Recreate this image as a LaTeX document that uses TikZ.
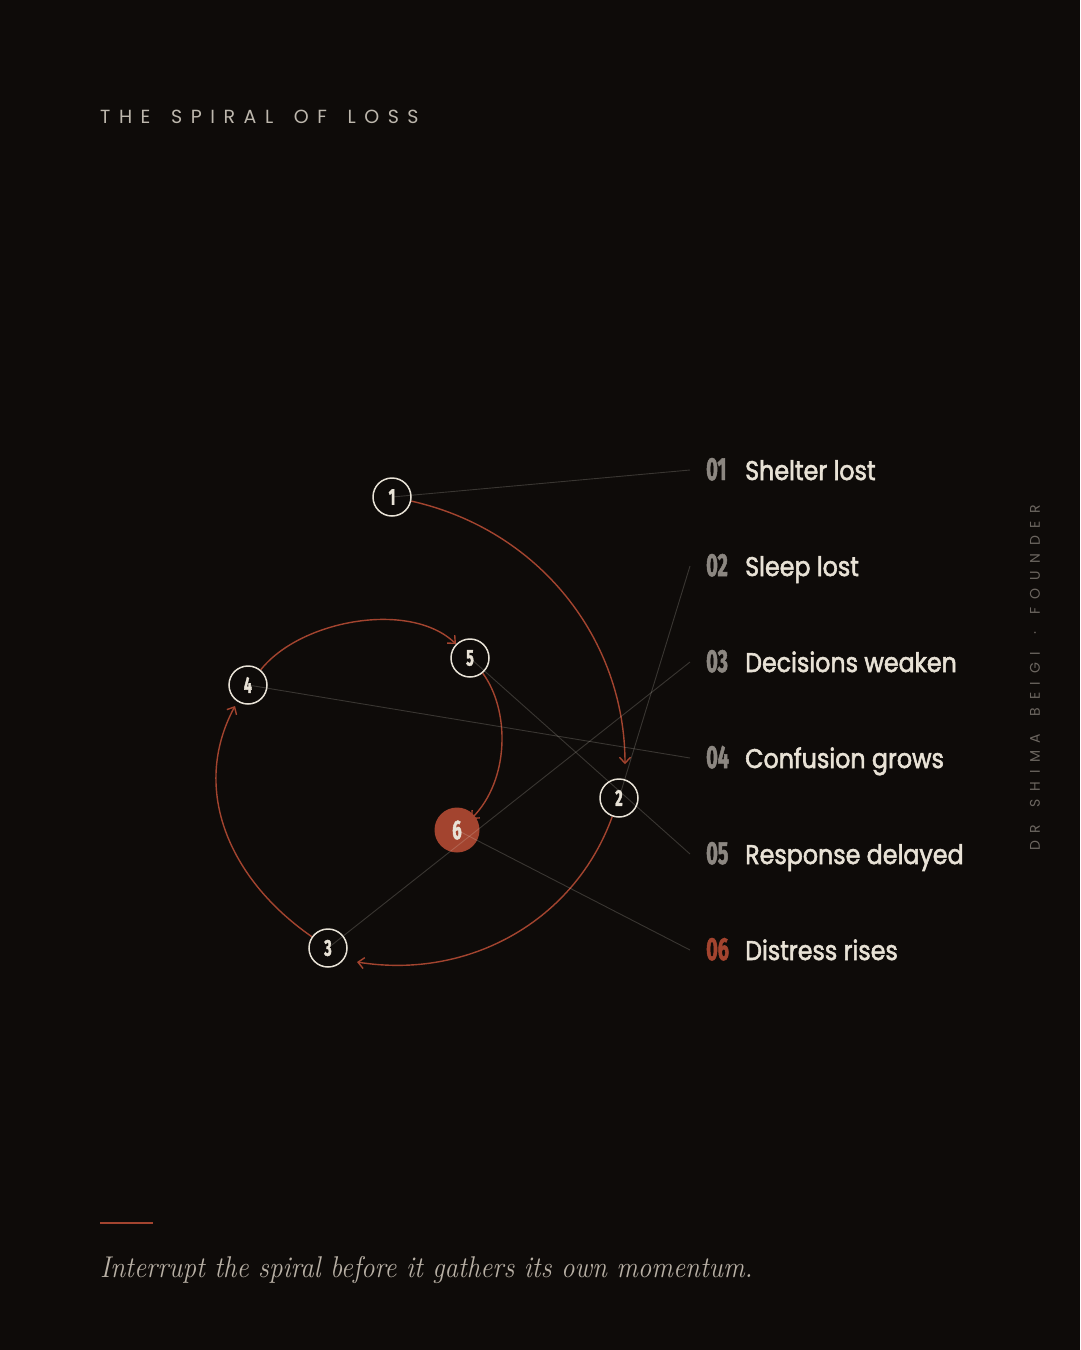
\documentclass[tikz,border=0pt]{standalone}
\usepackage{fontspec}
\usetikzlibrary{arrows.meta}
\newfontfamily\labfont[FakeStretch=0.88,FakeBold=2]{Poppins}
\newfontfamily\numfont[FakeStretch=0.62,FakeBold=1.5]{Fira Sans}
\newfontfamily\titlefont[LetterSpace=45]{Poppins}
\newfontfamily\vertfont[LetterSpace=55]{Poppins}
\definecolor{bg}{HTML}{0E0B09}
\definecolor{cream}{HTML}{E8E2D6}
\definecolor{rust}{HTML}{A3442F}
\definecolor{numgray}{HTML}{8C8781}
\definecolor{titlegray}{HTML}{BDB7AD}
\definecolor{dimgray}{HTML}{6C6660}
\definecolor{quotecol}{HTML}{B8B0A5}
\pgfdeclarelayer{bglayer}
\pgfdeclarelayer{arcs}
\pgfsetlayers{bglayer,arcs,main}
\tikzset{
  stepnode/.style={circle, draw=cream, line width=1.5pt, minimum size=38pt, inner sep=0pt,
    font=\numfont\bfseries\fontsize{23}{23}\selectfont, text=cream},
  finalnode/.style={circle, fill=rust, draw=none, minimum size=45pt, inner sep=0pt,
    font=\numfont\bfseries\fontsize{27}{27}\selectfont, text=cream},
  flow/.style={draw=rust, line width=1.4pt, -{Straight Barb[length=6pt,width=11pt,line width=1.4pt]}},
  leaderline/.style={draw=cream, draw opacity=0.2, line width=0.9pt},
  labnum/.style={anchor=base west, inner sep=0pt, text=numgray, font=\numfont\bfseries\fontsize{32}{32}\selectfont},
  labtext/.style={anchor=base west, inner sep=0pt, text=cream, font=\labfont\fontsize{27}{30}\selectfont},
}
\newcommand\wgap{\hspace{7pt}}
\newcommand\vgap{\hspace{6pt}}
\begin{document}
\begin{tikzpicture}[x=1pt,y=-1pt]
\begin{pgfonlayer}{bglayer}
\fill[bg] (0,0) rectangle (1080,1350);
\end{pgfonlayer}
\useasboundingbox (0,0) rectangle (1080,1350);

% title
\node[anchor=base west, inner sep=0pt, text=titlegray, font=\titlefont\fontsize{19}{19}\selectfont] (title) at (100,123) {THE\wgap{} SPIRAL\wgap{} OF\wgap{} LOSS};

% step nodes
\node[stepnode] (n1) at (392,497) {1};
\node[stepnode] (n2) at (619,798) {2};
\node[stepnode] (n3) at (328,948) {3};
\node[stepnode] (n4) at (248,685) {4};
\node[stepnode] (n5) at (470,658) {5};
\node[finalnode] (n6) at (457,830) {6};

% flow arcs
\begin{pgfonlayer}{arcs}
\draw[flow] (n1.-12) .. controls (540,530) and (625,640) .. ([shift={(6,-14)}]n2.north);
\draw[flow] (n2.-110) .. controls (575,920) and (470,980) .. ([shift={(29,14)}]n3.center);
\draw[flow] (n3.145) .. controls (230,880) and (190,790) .. ([shift={(-13,21)}]n4.center);
\draw[flow] (n4.50) .. controls (300,620) and (410,600) .. ([shift={(-14,-14)}]n5.center);
\draw[flow] (n5.-50) .. controls (510,710) and (510,780) .. ([shift={(14,-11)}]n6.center);
\end{pgfonlayer}

% labels
\foreach \i/\t [count=\k from 0] in {1/Shelter lost,2/Sleep lost,3/Decisions weaken,4/Confusion grows,5/Response delayed}{
  \node[labnum] (num\i) at (706,{480+96*\k}) {0\i};
  \node[labtext] (lab\i) at (745,{480+96*\k}) {\t};
  \coordinate (e\i) at (690,{470+96*\k});
}
\node[labnum, text=rust] (num6) at (706,960) {06};
\node[labtext] (lab6) at (745,960) {Distress rises};
\coordinate (e6) at (690,950);

% leader lines
\foreach \i in {1,...,6}{
  \draw[leaderline] (n\i.center) -- (e\i);
}

% vertical credit
\node[rotate=90, anchor=west, inner sep=0pt, text=dimgray, font=\vertfont\fontsize{14}{14}\selectfont] (credit) at (1035,851) {DR\vgap{} SHIMA\vgap{} BEIGI\vgap{} ·\vgap{} FOUNDER};

% bottom rule and quote
\coordinate (r1) at (100,1223);
\coordinate (r2) at (153,1223);
\draw[rust, line width=2pt] (r1) -- (r2);
\node[anchor=base west, inner sep=0pt, text=quotecol, font=\fontsize{30}{36}\selectfont\itshape] (quote) at (100,1277) {\scalebox{0.9}[1]{Interrupt the spiral before it gathers its own momentum.}};
\end{tikzpicture}
\end{document}
